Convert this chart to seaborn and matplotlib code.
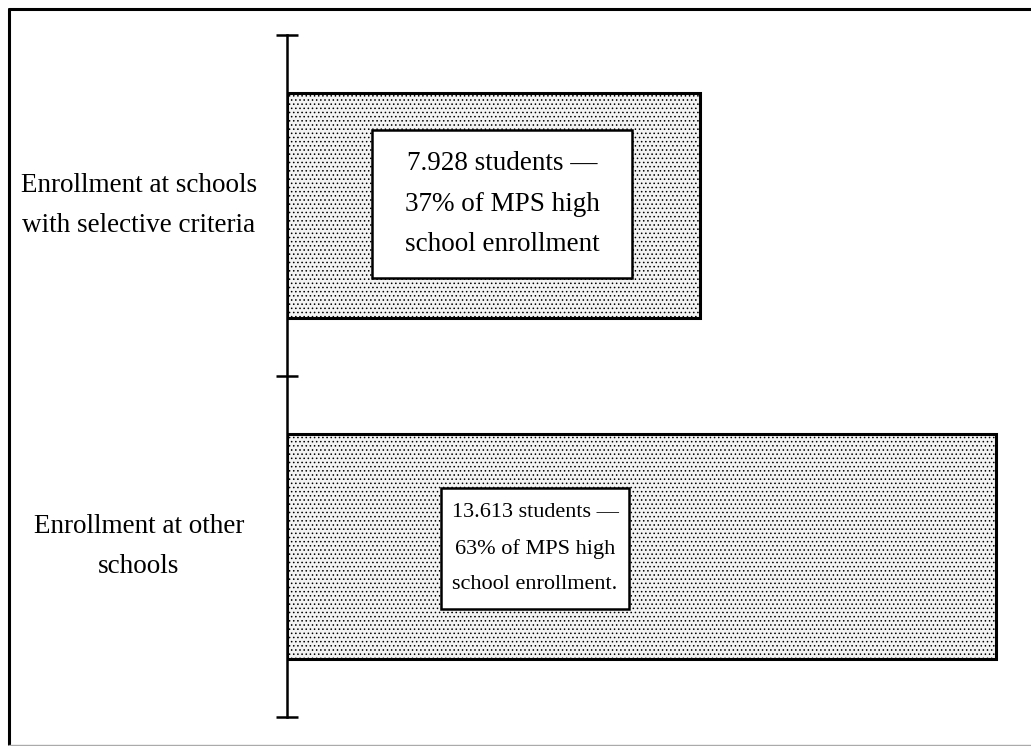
import matplotlib
matplotlib.use("Agg")
import matplotlib.pyplot as plt
from matplotlib.patches import Rectangle
from matplotlib.lines import Line2D
import matplotlib.transforms as mtransforms
import pandas as pd
import seaborn as sns

# Milwaukee Public Schools high school enrollment by school type
categories = ["Enrollment at schools\nwith selective criteria",
              "Enrollment at other\nschools"]
students = [7928, 13613]
shares = [37, 63]
box_labels = ["7.928 students —\n37% of MPS high\nschool enrollment",
              "13.613 students —\n63% of MPS high\nschool enrollment."]

df = pd.DataFrame({"category": categories, "students": students})

sns.set_theme(style="white")
plt.rcParams["font.family"] = ["Liberation Serif", "DejaVu Serif"]
plt.rcParams["hatch.color"] = "#a8a8a8"
plt.rcParams["hatch.linewidth"] = 0.6

W, H = 1031, 746
fig = plt.figure(figsize=(W / 100, H / 100), dpi=100)
ax = fig.add_axes([287 / W, 1 - 717 / H, 729 / W, (717 - 35) / H])

sns.barplot(data=df, y="category", x="students", orient="h", ax=ax,
            color="#f3f3f3", edgecolor="black", linewidth=2.2,
            width=0.66, hatch="....", saturation=1)

ax.set_xlim(0, 14000)
ax.set_ylim(1.5, -0.5)
ax.set_xlabel("")
ax.set_ylabel("")
ax.set_xticks([])
ax.set_yticks([-0.5, 0.5, 1.5])
ax.set_yticklabels([])
ax.tick_params(axis="y", direction="inout", length=16, width=1.8,
               color="black", left=True)
for side in ("top", "right", "bottom"):
    ax.spines[side].set_visible(False)
ax.spines["left"].set_color("black")
ax.spines["left"].set_linewidth(1.8)
ax.patch.set_alpha(0)

# category labels on the left, centred on each bar
blend = mtransforms.blended_transform_factory(fig.transFigure, ax.transData)
for i, lab in enumerate(categories):
    ax.text(139 / W, i, lab, transform=blend, ha="center", va="center",
            fontsize=19.5, linespacing=1.8, color="black")

# white callout boxes inside the bars (x0, x1, y0, y1 in data units)
boxes = [(1632, 6624, -0.221, 0.213), (2957, 6567, 0.828, 1.183)]
box_font = [19.5, 16]
box_spacing = [1.82, 2.12]
for (x0, x1, y0, y1), txt, fs, ls in zip(boxes, box_labels, box_font, box_spacing):
    ax.add_patch(Rectangle((x0, y0), x1 - x0, y1 - y0, facecolor="white",
                           edgecolor="black", linewidth=1.8, zorder=5))
    ax.text((x0 + x1) / 2, (y0 + y1) / 2, txt, ha="center", va="center",
            fontsize=fs, linespacing=ls, color="black", zorder=6)

# outer frame
fig.add_artist(Line2D([9 / W, 9 / W], [1 - 9 / H, 1 - 744 / H],
                      transform=fig.transFigure, color="black", lw=2.2))
fig.add_artist(Line2D([9 / W, 1.0], [1 - 9 / H, 1 - 9 / H],
                      transform=fig.transFigure, color="black", lw=2.2))
fig.add_artist(Line2D([9 / W, 1.0], [1 - 745 / H, 1 - 745 / H],
                      transform=fig.transFigure, color="#aaaaaa", lw=1.0))

fig.savefig("out.png", dpi=100, facecolor="white")
